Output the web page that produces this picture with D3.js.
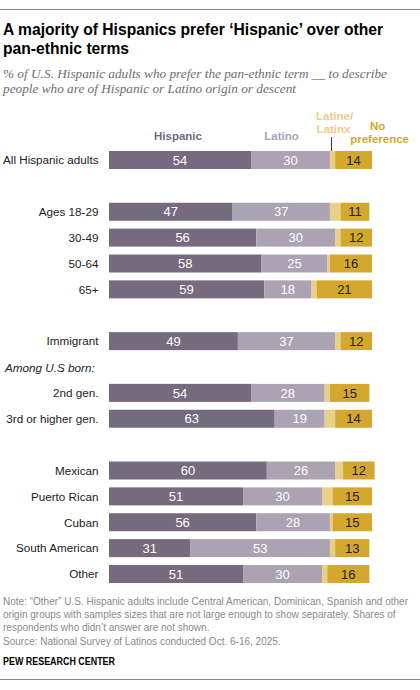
<!DOCTYPE html>
<html>
<head>
<meta charset="utf-8">
<script src="https://cdn.jsdelivr.net/npm/d3@7"></script>
<style>
  html, body { margin: 0; padding: 0; background: #fff; }
  svg { display: block; }
</style>
</head>
<body>
<svg id="chart" width="420" height="690"></svg>
<script>
// ---------- DATA ----------
const groups = [
  ["All Hispanic adults"],
  ["Ages 18-29", "30-49", "50-64", "65+"],
  ["Immigrant"],
  ["2nd gen.", "3rd or higher gen."],
  ["Mexican", "Puerto Rican", "Cuban", "South American", "Other"]
];
const seriesNames = ["Hispanic", "Latino", "Latine/Latinx", "No preference"];
const hispanic = [54, 47, 56, 58, 59, 49, 54, 63, 60, 51, 56, 31, 51];
const latino   = [30, 37, 30, 25, 18, 37, 28, 19, 26, 30, 28, 53, 30];
const latine   = [2, 4, 2, 1, 2, 2, 2, 4, 3, 4, 1, 2, 2];
const noPref   = [14, 11, 12, 16, 21, 12, 15, 14, 12, 15, 15, 13, 16];
const subheading = "Among U.S born:";
const titleLines = ["A majority of Hispanics prefer \u2018Hispanic\u2019 over other", "pan-ethnic terms"];
const subtitleLines = ["% of U.S. Hispanic adults who prefer the pan-ethnic term __ to describe",
                       "people who are of Hispanic or Latino origin or descent"];
const noteLines = [
  "Note: \u201COther\u201D U.S. Hispanic adults include Central American, Dominican, Spanish and other",
  "origin groups with samples sizes that are not large enough to show separately. Shares of",
  "respondents who didn\u2019t answer are not shown.",
  "Source: National Survey of Latinos conducted Oct. 6-16, 2025."
];
const credit = "PEW RESEARCH CENTER";

// ---------- SETUP ----------
const colors = ["#756a7e", "#aba3b2", "#e8cf8a", "#d4a82f"];
const textColors = ["#ffffff", "#ffffff", null, "#222222"];
const SANS = "'Liberation Sans', Arial, sans-serif";
const svg = d3.select("#chart");

// flatten categories with slot indices (one blank slot between groups)
const categories = [];
const slots = [];
let slot = 0;
groups.forEach((g, gi) => {
  if (gi > 0) slot += 1;
  g.forEach(c => { categories.push(c); slots.push(slot); slot += 1; });
});
const subSlot = slots[categories.indexOf("2nd gen.")] - 1;

const rows = categories.map((c, i) => ({
  cat: c, slot: slots[i],
  vals: [hispanic[i], latino[i], latine[i], noPref[i]]
}));

const x = d3.scaleLinear().domain([0, 100]).range([109, 372]);
const y = d3.scaleLinear().domain([0, d3.max(slots)]).range([151, 565]);
const barH = 18;

// keep natural width within the page, then compress uniformly to the target width
function fitLines(sel, target, maxNatural) {
  const nodes = sel.nodes();
  let fs = +nodes[0].getAttribute("font-size");
  let w0 = nodes[0].getComputedTextLength();
  if (w0 > maxNatural) {
    fs = fs * maxNatural / w0;
    nodes.forEach(n => n.setAttribute("font-size", fs));
    w0 = nodes[0].getComputedTextLength();
  }
  const r = target / w0;
  if (r < 1) {
    nodes.forEach(n => {
      const w = n.getComputedTextLength();
      n.setAttribute("textLength", w * r);
      n.setAttribute("lengthAdjust", "spacingAndGlyphs");
    });
  }
}

// top and bottom rules
svg.append("line").attr("x1", 0).attr("x2", 420).attr("y1", 9.5).attr("y2", 9.5)
  .attr("stroke", "#888").attr("stroke-width", 1);
svg.append("line").attr("x1", 0).attr("x2", 420).attr("y1", 679.5).attr("y2", 679.5)
  .attr("stroke", "#888").attr("stroke-width", 1);

// title
const title = svg.selectAll(".title").data(titleLines).join("text")
  .attr("class", "title")
  .attr("x", 3).attr("y", (d, i) => 35 + i * 19)
  .attr("font-family", SANS).attr("font-weight", "bold").attr("font-size", 17.5)
  .attr("fill", "#000").text(d => d);
fitLines(title, 380, 405);

// subtitle
const sub = svg.selectAll(".sub").data(subtitleLines).join("text")
  .attr("class", "sub")
  .attr("x", 3).attr("y", (d, i) => 77.5 + i * 15)
  .attr("font-family", "'Liberation Serif', 'Times New Roman', serif").attr("font-style", "italic")
  .attr("font-size", 13.5).attr("fill", "#6e6e6e").text(d => d);
fitLines(sub, 384, 405);

// column headers
const first = rows[0].vals;
const cum = d3.cumsum(first);
const mid = k => x(cum[k] - first[k] / 2);
const hdr = svg.append("g").attr("font-family", SANS).attr("font-weight", "bold")
  .attr("font-size", 11.5).attr("text-anchor", "middle");
hdr.append("text").attr("x", mid(0) - 2).attr("y", 139.5).attr("fill", colors[0]).text("Hispanic");
hdr.append("text").attr("x", mid(1) - 9).attr("y", 139.5).attr("fill", colors[1]).text("Latino");
hdr.append("text").attr("x", mid(2) + 2).attr("y", 119.5).attr("fill", colors[2]).text("Latine/");
hdr.append("text").attr("x", mid(2) + 1).attr("y", 132.5).attr("fill", colors[2]).text("Latinx");
hdr.append("text").attr("x", mid(3) + 24).attr("y", 130).attr("fill", colors[3]).text("No");
hdr.append("text").attr("x", mid(3) + 26).attr("y", 143).attr("fill", colors[3]).text("preference");
svg.append("line").attr("x1", mid(2) - 1).attr("x2", mid(2) - 1).attr("y1", 137).attr("y2", y(0))
  .attr("stroke", "#333").attr("stroke-width", 1);

// bars
const rowG = svg.selectAll(".row").data(rows).join("g").attr("class", "row")
  .attr("transform", d => `translate(0,${y(d.slot)})`);

rowG.each(function(d) {
  const g = d3.select(this);
  const c = d3.cumsum(d.vals);
  const segs = d.vals.map((v, k) => ({ v, k, x0: c[k] - v, x1: c[k] }));
  g.selectAll("rect").data(segs).join("rect")
    .attr("x", s => x(s.x0)).attr("width", s => x(s.x1) - x(s.x0))
    .attr("y", 0).attr("height", barH)
    .attr("fill", s => colors[s.k]);
  g.selectAll("text.val").data(segs.filter(s => textColors[s.k])).join("text")
    .attr("class", "val")
    .attr("x", s => x((s.x0 + s.x1) / 2)).attr("y", barH / 2 + 4.7)
    .attr("text-anchor", "middle").attr("font-family", SANS).attr("font-size", 13)
    .attr("fill", s => textColors[s.k]).text(s => s.v);
  g.append("text").attr("x", 98.5).attr("y", barH / 2 + 4.3)
    .attr("text-anchor", "end").attr("font-family", SANS).attr("font-size", 11.7)
    .attr("fill", "#222").text(d.cat);
});

// subheading
svg.append("text").attr("x", 5).attr("y", y(subSlot) + barH / 2 + 4.5)
  .attr("font-family", SANS).attr("font-style", "italic").attr("font-size", 11.7)
  .attr("fill", "#222").text(subheading);

// notes
const notes = svg.selectAll(".note").data(noteLines).join("text")
  .attr("class", "note")
  .attr("x", 3).attr("y", (d, i) => 604.5 + i * 13.4)
  .attr("font-family", SANS).attr("font-size", 11).attr("fill", "#8a8a8a").text(d => d);
fitLines(notes, 405, 410);

const pew = svg.append("text").attr("x", 3).attr("y", 665)
  .attr("font-family", SANS).attr("font-weight", "bold").attr("font-size", 10.5)
  .attr("fill", "#000").text(credit);
fitLines(pew, 112, 130);
</script>
</body>
</html>
